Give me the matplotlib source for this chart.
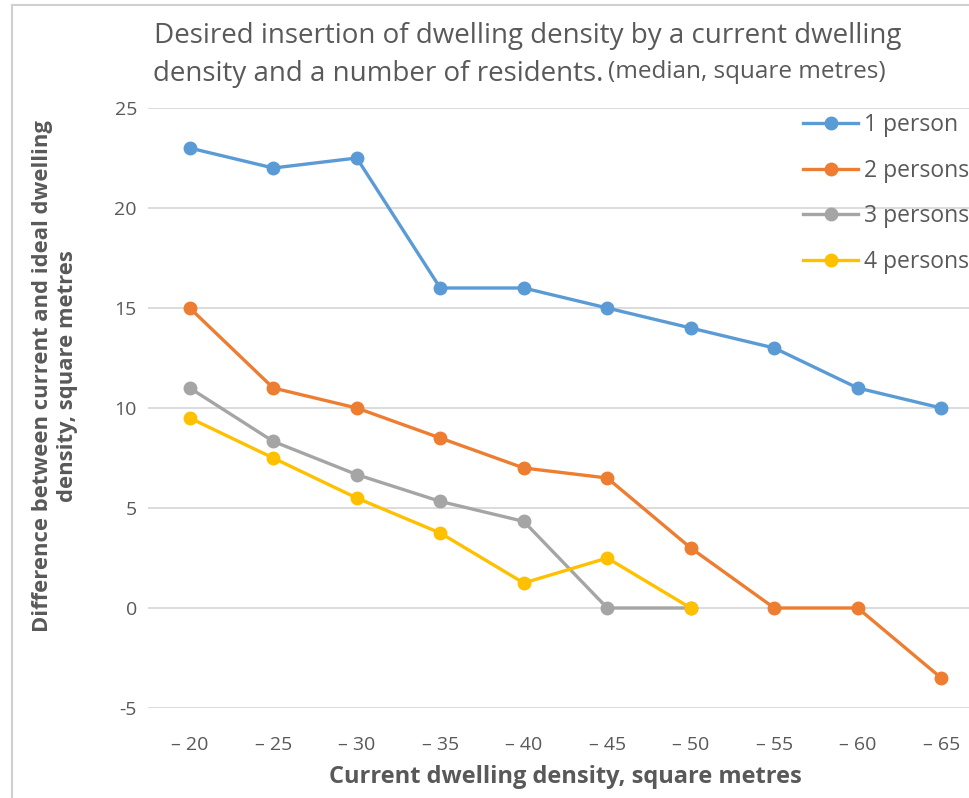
import matplotlib.pyplot as plt
from matplotlib.lines import Line2D

plt.rcParams["font.family"] = ["Open Sans", "DejaVu Sans"]
plt.rcParams["axes.unicode_minus"] = False

# Median difference between current and ideal dwelling density
categories = ["\u2013 20", "\u2013 25", "\u2013 30", "\u2013 35", "\u2013 40",
              "\u2013 45", "\u2013 50", "\u2013 55", "\u2013 60", "\u2013 65"]
one_person = [23, 22, 22.5, 16, 16, 15, 14, 13, 11, 10]
two_persons = [15, 11, 10, 8.5, 7, 6.5, 3, 0, 0, -3.5]
three_persons = [11, 8.33, 6.67, 5.33, 4.33, 0, 0]
four_persons = [9.5, 7.5, 5.5, 3.75, 1.25, 2.5, 0]
series_names = ["1 person", "2 persons", "3 persons", "4 persons"]
colors = ["#5B9BD5", "#ED7D31", "#A5A5A5", "#FFC000"]

text_grey = "#595959"
grid_grey = "#D9D9D9"

fig = plt.figure(figsize=(9.69, 7.98), dpi=100)
ax = fig.add_axes([148 / 969, 90 / 798, 835 / 969, 600 / 798])

for values, name, color in zip([one_person, two_persons, three_persons, four_persons],
                               series_names, colors):
    ax.plot(range(len(values)), values, "o-", color=color, lw=2.4,
            markersize=9, label=name, zorder=3)

ax.set_xlim(-0.5, len(categories) - 0.5)
ax.set_ylim(-5, 25)
ax.set_yticks(range(-5, 26, 5))
ax.set_xticks(range(len(categories)))
ax.set_xticklabels(categories)
ax.tick_params(length=0, labelsize=14, labelcolor=text_grey)
ax.tick_params(axis="y", pad=8)
ax.tick_params(axis="x", pad=20)
ax.grid(axis="y", color=grid_grey, lw=1.3)
ax.set_axisbelow(True)
for spine in ax.spines.values():
    spine.set_visible(False)

ax.set_xlabel("Current dwelling density, square metres", fontsize=17,
              fontweight="bold", color=text_grey, labelpad=8)
fig.text(55 / 969, 1 - 376 / 798,
         "Difference between current and ideal dwelling\ndensity, square metres",
         rotation=90, ha="center", va="center", multialignment="center",
         fontsize=15.8, fontweight="bold", color=text_grey, linespacing=1.25)

leg = ax.legend(loc="upper right", bbox_to_anchor=(1.0, 1.015), frameon=False,
                fontsize=16.5, labelcolor=text_grey, handlelength=2.4,
                handletextpad=0.25, labelspacing=0.95, borderaxespad=0.2)

# Title on two lines, with a smaller parenthetical note
fig.text(528 / 969, 1 - 36 / 798, "Desired insertion of dwelling density by a current dwelling",
         ha="center", va="center", fontsize=20, color=text_grey)
line2 = fig.text(153 / 969, 1 - 74 / 798, "density and a number of residents.",
                 ha="left", va="center", fontsize=20, color=text_grey)
ax.annotate("(median, square metres)", xy=(1, 0), xycoords=line2,
            xytext=(3, 3), textcoords="offset points", ha="left", va="bottom",
            fontsize=17.5, color=text_grey, annotation_clip=False)

# Chart area border along the left and top
fig.add_artist(Line2D([12 / 969, 12 / 969], [0, 1 - 5 / 798], color="#D0D0D0", lw=1.5,
                      transform=fig.transFigure))
fig.add_artist(Line2D([12 / 969, 1], [1 - 5 / 798, 1 - 5 / 798], color="#D0D0D0", lw=1.5,
                      transform=fig.transFigure))

fig.savefig("out.png", dpi=100)
